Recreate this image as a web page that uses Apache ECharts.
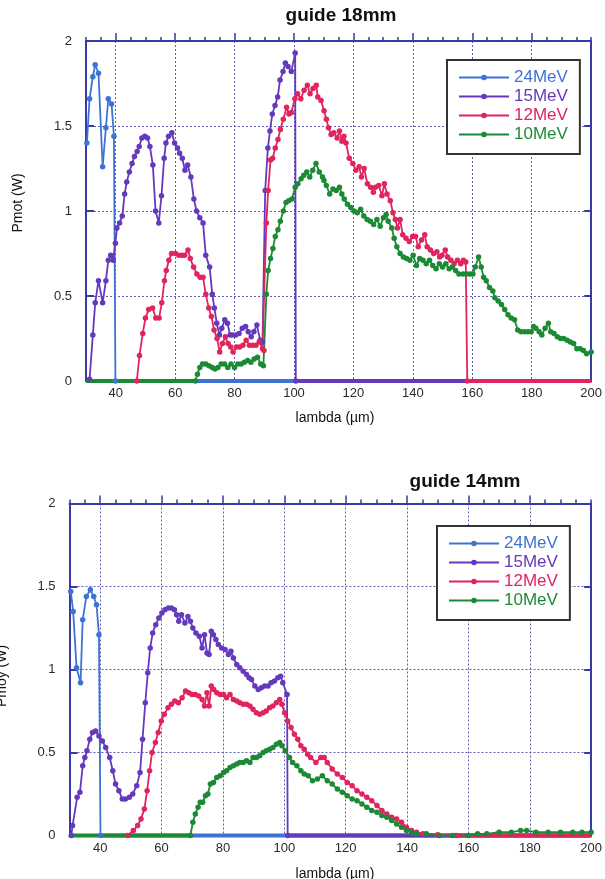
<!DOCTYPE html>
<html>
<head>
<meta charset="utf-8">
<script src="https://cdn.jsdelivr.net/npm/echarts@6/dist/echarts.min.js"></script>
<style>
  html, body { margin: 0; padding: 0; background: #fff; }
  #chart { width: 605px; height: 879px; }
</style>
</head>
<body>
<div id="chart"></div>
<script>
// Beam energies and their colours
const energies = ['24MeV', '15MeV', '12MeV', '10MeV'];
const colors = ['#3d74d4', '#6439bd', '#e0245e', '#1c8a34'];

// Axis ticks
const xTicks = [40, 60, 80, 100, 120, 140, 160, 180, 200];
const xMajorTop = [40, 60, 80, 100, 120, 140, 160, 180];

// ---------- guide 18mm : [lambda (µm), Pmot (W)] ----------
const g18_24 = [[30.3,1.40],[31.2,1.66],[32.3,1.79],[33.1,1.86],[34.2,1.81],[35.6,1.26],[36.7,1.49],[37.5,1.66],[38.6,1.63],[39.4,1.44],[39.9,0]];
const g18_15 = [[31.2,0.01],[32.3,0.27],[33.1,0.46],[34.2,0.59],[35.6,0.46],[36.7,0.59],[37.5,0.71],[38.3,0.74],[39.1,0.71],[39.9,0.81],[40.4,0.90],[41.3,0.93],[42.2,0.97],[43.0,1.10],[43.7,1.17],[44.6,1.23],[45.5,1.28],[46.3,1.32],[47.2,1.35],[47.9,1.38],[48.8,1.43],[49.8,1.44],[50.7,1.43],[51.5,1.38],[52.5,1.27],[53.4,1.00],[54.5,0.93],[55.4,1.09],[56.3,1.31],[56.9,1.40],[57.8,1.44],[58.9,1.46],[59.8,1.40],[60.8,1.37],[61.5,1.34],[62.4,1.31],[63.3,1.24],[64.2,1.27],[65.3,1.20],[66.3,1.07],[67.2,1.00],[68.3,0.96],[69.4,0.93],[70.3,0.74],[71.6,0.67],[72.5,0.51],[73.2,0.43],[74.0,0.34],[74.9,0.27],[75.7,0.31],[76.7,0.36],[77.6,0.34],[78.5,0.27],[79.3,0.27],[80.4,0.27],[81.5,0.28],[82.6,0.31],[83.7,0.32],[84.6,0.29],[85.6,0.26],[86.5,0.29],[87.5,0.33],[88.6,0.24],[89.4,0.23],[90.3,1.12],[91.2,1.37],[91.9,1.47],[92.7,1.57],[93.6,1.62],[94.5,1.67],[95.3,1.77],[96.3,1.82],[97.1,1.87],[98.0,1.85],[99.1,1.82],[100.4,1.93],[100.6,0]];
const g18_12 = [[47.1,0],[48.0,0.15],[49.1,0.28],[50.0,0.37],[51.1,0.42],[52.4,0.43],[53.5,0.37],[54.6,0.37],[55.5,0.46],[56.4,0.59],[57.0,0.65],[57.9,0.71],[58.8,0.75],[60.1,0.75],[61.2,0.74],[62.3,0.74],[63.2,0.74],[64.3,0.77],[65.1,0.72],[66.2,0.67],[67.3,0.63],[68.4,0.61],[69.4,0.61],[70.3,0.51],[71.3,0.43],[72.2,0.38],[73.1,0.30],[74.1,0.25],[75.0,0.17],[75.9,0.22],[76.9,0.26],[77.8,0.22],[78.7,0.20],[79.5,0.17],[80.6,0.20],[81.7,0.20],[82.8,0.21],[83.9,0.24],[85.0,0.21],[86.1,0.21],[87.2,0.21],[88.3,0.23],[89.4,0.19],[89.9,0.18],[90.7,0.93],[91.3,1.12],[92.1,1.30],[92.8,1.31],[93.7,1.37],[94.6,1.42],[95.4,1.48],[96.4,1.54],[97.5,1.61],[98.3,1.57],[99.1,1.58],[100.3,1.66],[101.2,1.69],[102.3,1.66],[103.4,1.71],[104.5,1.74],[105.4,1.69],[106.4,1.72],[107.5,1.74],[108.0,1.67],[109.1,1.65],[110.1,1.59],[110.9,1.54],[111.6,1.49],[112.5,1.45],[113.4,1.46],[114.5,1.43],[115.3,1.47],[116.1,1.41],[116.8,1.44],[117.5,1.40],[118.6,1.31],[119.8,1.28],[120.8,1.24],[121.9,1.26],[122.7,1.20],[123.6,1.25],[124.7,1.16],[125.8,1.14],[126.7,1.11],[127.4,1.14],[128.5,1.15],[129.6,1.09],[130.4,1.16],[131.3,1.10],[132.4,1.06],[133.3,0.99],[134.1,0.95],[134.8,0.90],[135.7,0.95],[136.6,0.86],[137.7,0.84],[138.8,0.82],[139.9,0.85],[140.9,0.85],[141.8,0.79],[142.9,0.83],[144.0,0.86],[144.8,0.79],[145.9,0.77],[147.0,0.75],[148.1,0.76],[149.0,0.73],[149.8,0.74],[150.9,0.77],[151.7,0.73],[152.8,0.71],[153.9,0.69],[155.0,0.71],[156.1,0.69],[157.0,0.71],[157.8,0.70],[158.3,0]];
const g18_10 = [[66.8,0],[67.5,0.04],[68.3,0.08],[69.2,0.10],[70.3,0.10],[71.4,0.09],[72.5,0.08],[73.4,0.07],[74.4,0.08],[75.5,0.10],[76.6,0.10],[77.7,0.08],[78.8,0.10],[80.0,0.08],[81.1,0.10],[82.2,0.10],[83.3,0.11],[84.4,0.12],[85.5,0.11],[86.6,0.13],[87.7,0.14],[88.8,0.10],[89.7,0.09],[90.7,0.51],[91.3,0.65],[92.1,0.72],[92.9,0.78],[93.7,0.85],[94.6,0.89],[95.4,0.94],[96.4,1.00],[97.3,1.05],[98.2,1.06],[99.3,1.07],[100.4,1.14],[101.3,1.16],[102.4,1.19],[103.3,1.21],[104.3,1.23],[105.3,1.20],[106.3,1.24],[107.4,1.28],[108.5,1.23],[109.6,1.20],[110.1,1.18],[110.9,1.15],[112.0,1.10],[113.1,1.13],[114.2,1.12],[115.3,1.14],[116.1,1.10],[116.9,1.07],[118.0,1.04],[119.1,1.02],[120.2,1.00],[121.3,0.99],[122.4,1.01],[123.5,0.97],[124.6,0.95],[125.7,0.94],[126.8,0.92],[127.9,0.95],[129.0,0.91],[130.1,0.96],[131.0,0.98],[131.7,0.94],[132.9,0.90],[133.7,0.84],[134.6,0.79],[135.7,0.75],[136.8,0.73],[137.9,0.72],[139.0,0.71],[140.1,0.74],[141.2,0.68],[142.3,0.72],[143.4,0.71],[144.5,0.69],[145.6,0.71],[146.7,0.68],[147.8,0.66],[148.9,0.69],[150.0,0.67],[151.1,0.69],[152.2,0.66],[153.3,0.67],[154.4,0.65],[155.5,0.63],[156.9,0.63],[158.0,0.63],[159.2,0.63],[160.2,0.63],[161.0,0.67],[162.1,0.73],[163.0,0.67],[163.8,0.61],[164.7,0.59],[165.8,0.55],[166.9,0.53],[167.6,0.49],[168.7,0.47],[169.8,0.45],[170.9,0.42],[172.0,0.39],[173.1,0.37],[174.2,0.36],[175.3,0.30],[176.4,0.29],[177.6,0.29],[178.7,0.29],[179.8,0.29],[180.6,0.32],[181.4,0.31],[182.5,0.29],[183.4,0.27],[184.5,0.31],[185.6,0.34],[186.4,0.29],[187.5,0.28],[188.6,0.26],[189.7,0.25],[190.8,0.25],[191.9,0.24],[193.0,0.23],[194.1,0.22],[195.2,0.19],[196.3,0.19],[197.4,0.18],[198.5,0.16],[200,0.17]];
// zero stretches along the baseline
const g18_24_zero = [[39.9,0],[200,0]];
const g18_15_zero = [[100.6,0],[200,0]];
const g18_12_zero = [[158.3,0],[200,0]];
const g18_10_zero = [[30,0],[66.8,0]];

// ---------- guide 14mm : [lambda (µm), Pmoy (W)] ----------
const g14_24 = [[30.4,1.47],[31.2,1.35],[32.3,1.01],[33.6,0.92],[34.3,1.30],[35.5,1.44],[36.8,1.48],[37.9,1.44],[38.8,1.39],[39.6,1.21],[40.1,0]];
const g14_15 = [[30.6,0],[31.0,0.06],[32.5,0.23],[33.4,0.26],[34.3,0.42],[35.0,0.47],[35.7,0.51],[36.6,0.58],[37.5,0.62],[38.5,0.63],[39.6,0.60],[40.7,0.57],[41.8,0.53],[43.1,0.47],[44.1,0.39],[45.0,0.31],[46.1,0.27],[47.2,0.22],[48.2,0.22],[49.5,0.23],[50.6,0.25],[51.9,0.30],[53.0,0.38],[53.8,0.58],[54.7,0.80],[55.5,0.98],[56.3,1.13],[57.1,1.22],[58.1,1.27],[59.1,1.31],[60.1,1.34],[61.1,1.36],[62.2,1.37],[63.2,1.37],[64.2,1.36],[64.9,1.33],[65.6,1.29],[66.5,1.33],[67.6,1.28],[68.6,1.32],[69.4,1.29],[70.2,1.25],[71.2,1.22],[72.3,1.20],[73.2,1.13],[74.0,1.21],[74.8,1.10],[75.5,1.09],[76.2,1.23],[76.9,1.21],[77.7,1.18],[78.5,1.15],[79.6,1.13],[80.7,1.12],[81.8,1.09],[82.6,1.11],[83.4,1.07],[84.5,1.03],[85.5,1.01],[86.6,0.99],[87.7,0.97],[88.5,0.95],[89.3,0.94],[90.4,0.90],[91.5,0.88],[92.5,0.89],[93.6,0.90],[94.7,0.90],[95.7,0.92],[96.8,0.93],[97.9,0.95],[98.8,0.96],[99.5,0.92],[100.9,0.85],[101.1,0]];
const g14_12 = [[49.0,0],[50.8,0.03],[52.2,0.06],[53.3,0.10],[54.4,0.16],[55.3,0.27],[56.1,0.39],[56.9,0.50],[58.0,0.56],[58.9,0.62],[59.9,0.69],[60.9,0.73],[62.1,0.77],[63.2,0.79],[64.3,0.81],[65.5,0.80],[66.7,0.83],[67.8,0.87],[68.9,0.86],[69.9,0.85],[71.0,0.85],[72.1,0.84],[73.2,0.82],[74.0,0.78],[74.8,0.86],[75.5,0.78],[76.2,0.90],[77.0,0.88],[78.0,0.86],[79.1,0.85],[80.2,0.85],[81.2,0.83],[82.3,0.85],[83.4,0.82],[84.5,0.81],[85.5,0.80],[86.6,0.79],[87.7,0.79],[88.8,0.78],[89.8,0.76],[90.9,0.74],[92.0,0.73],[93.1,0.74],[94.1,0.75],[95.2,0.77],[96.3,0.78],[97.4,0.80],[98.5,0.82],[99.2,0.79],[100.1,0.74],[101.1,0.69],[102.2,0.65],[103.3,0.61],[104.4,0.58],[105.4,0.54],[106.5,0.52],[107.6,0.49],[108.6,0.47],[110.3,0.44],[111.9,0.47],[113.0,0.47],[114.0,0.44],[115.6,0.40],[117.3,0.37],[118.9,0.35],[120.5,0.32],[122.1,0.30],[123.7,0.27],[125.3,0.25],[126.9,0.23],[128.5,0.21],[130.2,0.18],[131.8,0.15],[133.4,0.13],[135.0,0.11],[136.6,0.10],[138.2,0.08],[139.8,0.05],[141.5,0.03],[143.1,0.02],[145.2,0.01],[150.0,0.005],[156.0,0]];
const g14_10 = [[69.4,0],[70.2,0.08],[71.0,0.13],[71.9,0.17],[72.6,0.20],[73.4,0.20],[74.3,0.24],[75.1,0.25],[75.9,0.31],[76.9,0.32],[78.0,0.35],[79.1,0.36],[80.2,0.38],[81.2,0.39],[82.3,0.41],[83.4,0.42],[84.5,0.43],[85.5,0.44],[86.6,0.44],[87.7,0.45],[88.8,0.44],[89.8,0.47],[90.9,0.47],[92.0,0.48],[93.1,0.50],[94.1,0.51],[95.2,0.52],[96.3,0.53],[97.4,0.55],[98.5,0.56],[99.2,0.54],[100.3,0.51],[101.7,0.47],[102.7,0.44],[104.1,0.42],[105.4,0.39],[106.5,0.37],[107.8,0.36],[109.2,0.33],[110.8,0.34],[112.4,0.36],[114.0,0.33],[115.6,0.31],[117.3,0.28],[118.9,0.26],[120.5,0.24],[122.1,0.22],[123.7,0.21],[125.3,0.19],[126.9,0.17],[128.5,0.15],[130.2,0.14],[131.8,0.12],[133.4,0.11],[135.0,0.09],[136.6,0.07],[138.2,0.05],[139.8,0.03],[141.5,0.02],[143.1,0.01],[146.3,0.01],[150.6,0],[154.9,0],[160.0,0],[163.0,0.01],[166.0,0.01],[170.0,0.02],[174.0,0.02],[177.0,0.03],[179.0,0.03],[182.0,0.02],[186.0,0.02],[190.0,0.02],[194.0,0.02],[197.0,0.02],[200.0,0.02]];
const g14_24_zero = [[40.1,0],[200,0]];
const g14_15_zero = [[101.1,0],[200,0]];
const g14_12_zero = [[156.0,0],[200,0]];
const g14_10_zero = [[30,0],[69.4,0]];

const FONT = "'Liberation Sans', Arial, Helvetica, sans-serif";
const FRAME = '#3a3aa6';
const GRID = '#5c5cb4';

function bottomX(g) {
  return {
    type: 'value', gridIndex: g, position: 'bottom', min: 30, max: 200,
    axisLine: { show: true, onZero: false, lineStyle: { color: FRAME, width: 2 } },
    axisTick: { show: false, customValues: xTicks },
    axisLabel: { customValues: xTicks, color: '#2a2a2a', fontSize: 13, fontFamily: FONT, margin: 6 },
    splitLine: { show: true, lineStyle: { color: GRID, width: 1, type: [2, 2] } }
  };
}
function topMinorX(g) {
  return {
    type: 'value', gridIndex: g, position: 'top', min: 30, max: 200, interval: 5,
    axisLine: { show: true, onZero: false, lineStyle: { color: FRAME, width: 2 } },
    axisTick: { show: true, inside: false, length: 4, lineStyle: { color: FRAME, width: 1.5 } },
    axisLabel: { show: false }, splitLine: { show: false }
  };
}
function topMajorX(g) {
  return {
    type: 'value', gridIndex: g, position: 'top', min: 30, max: 200,
    axisLine: { show: false, onZero: false },
    axisTick: { show: true, inside: false, length: 8, customValues: xMajorTop, lineStyle: { color: FRAME, width: 1.5 } },
    axisLabel: { show: false }, splitLine: { show: false }
  };
}
function leftY(g) {
  return {
    type: 'value', gridIndex: g, position: 'left', min: 0, max: 2, interval: 0.5,
    axisLine: { show: true, onZero: false, lineStyle: { color: FRAME, width: 2 } },
    axisTick: { show: true, inside: true, length: 8, lineStyle: { color: FRAME, width: 2 } },
    axisLabel: { color: '#2a2a2a', fontSize: 13, fontFamily: FONT, margin: 14 },
    splitLine: { show: true, lineStyle: { color: GRID, width: 1, type: [2, 2] } }
  };
}
function rightY(g) {
  return {
    type: 'value', gridIndex: g, position: 'right', min: 0, max: 2, interval: 0.5,
    axisLine: { show: true, onZero: false, lineStyle: { color: FRAME, width: 2 } },
    axisTick: { show: true, inside: true, length: 7, lineStyle: { color: FRAME, width: 2 } },
    axisLabel: { show: false }, splitLine: { show: false }
  };
}

function curve(name, color, data, xi, yi) {
  return {
    type: 'line', name, data, xAxisIndex: xi, yAxisIndex: yi,
    symbol: 'circle', symbolSize: 5.5, showSymbol: true, showAllSymbol: true,
    lineStyle: { color, width: 1.8 }, itemStyle: { color },
    emphasis: { disabled: true }, z: 3, clip: true
  };
}
function baseline(name, color, data, xi, yi) {
  return {
    type: 'line', name, data, xAxisIndex: xi, yAxisIndex: yi,
    symbol: 'none', lineStyle: { color, width: 4 }, itemStyle: { color },
    emphasis: { disabled: true }, z: 2, clip: false
  };
}

const top18 = [g18_24, g18_15, g18_12, g18_10];
const top18Zero = [g18_24_zero, g18_15_zero, g18_12_zero, g18_10_zero];
const low14 = [g14_24, g14_15, g14_12, g14_10];
const low14Zero = [g14_24_zero, g14_15_zero, g14_12_zero, g14_10_zero];

const series = [];
energies.forEach((e, i) => series.push(curve(e, colors[i], top18[i], 0, 0)));
energies.forEach((e, i) => series.push(curve(e, colors[i], low14[i], 3, 2)));
energies.forEach((e, i) => series.push(baseline(e, colors[i], top18Zero[i], 0, 0)));
energies.forEach((e, i) => series.push(baseline(e, colors[i], low14Zero[i], 3, 2)));

const legendItems = energies.map((e, i) => ({ name: e, textStyle: { color: colors[i] } }));
function legendBox(left, top) {
  return {
    orient: 'vertical', left, top, data: legendItems, selectedMode: false,
    itemWidth: 50, itemHeight: 7, itemGap: 0, padding: [8, 12, 10, 11],
    borderColor: '#333', borderWidth: 2, backgroundColor: '#fff',
    textStyle: { fontSize: 17, lineHeight: 19, fontFamily: FONT }
  };
}

function label(text, x, y, font, rotation) {
  return {
    type: 'text', x, y, rotation: rotation || 0, silent: true, z: 10,
    style: { text, font, fill: '#111', textAlign: 'center', textVerticalAlign: 'middle' }
  };
}

const option = {
  animation: false,
  backgroundColor: '#fff',
  grid: [
    { left: 86, top: 41, width: 513.5, height: 340 },
    { left: 69.5, top: 503.5, width: 527, height: 332 }
  ],
  xAxis: [bottomX(0), topMinorX(0), topMajorX(0), bottomX(1), topMinorX(1), topMajorX(1)],
  yAxis: [leftY(0), rightY(0), leftY(1), rightY(1)],
  legend: [legendBox(447, 60), legendBox(437, 526)],
  series,
  graphic: [
    label('guide 18mm', 341, 16, 'bold 19px ' + FONT),
    label('guide 14mm', 465, 482, 'bold 19px ' + FONT),
    label('lambda (µm)', 335, 418, '14px ' + FONT),
    label('lambda (µm)', 335, 874, '14px ' + FONT),
    label('Pmot (W)', 18, 203, '14px ' + FONT, Math.PI / 2),
    label('Pmoy (W)', 2, 676, '14px ' + FONT, Math.PI / 2)
  ]
};

const chart = echarts.init(document.getElementById('chart'), null, { renderer: 'canvas' });
chart.setOption(option);
</script>
</body>
</html>
